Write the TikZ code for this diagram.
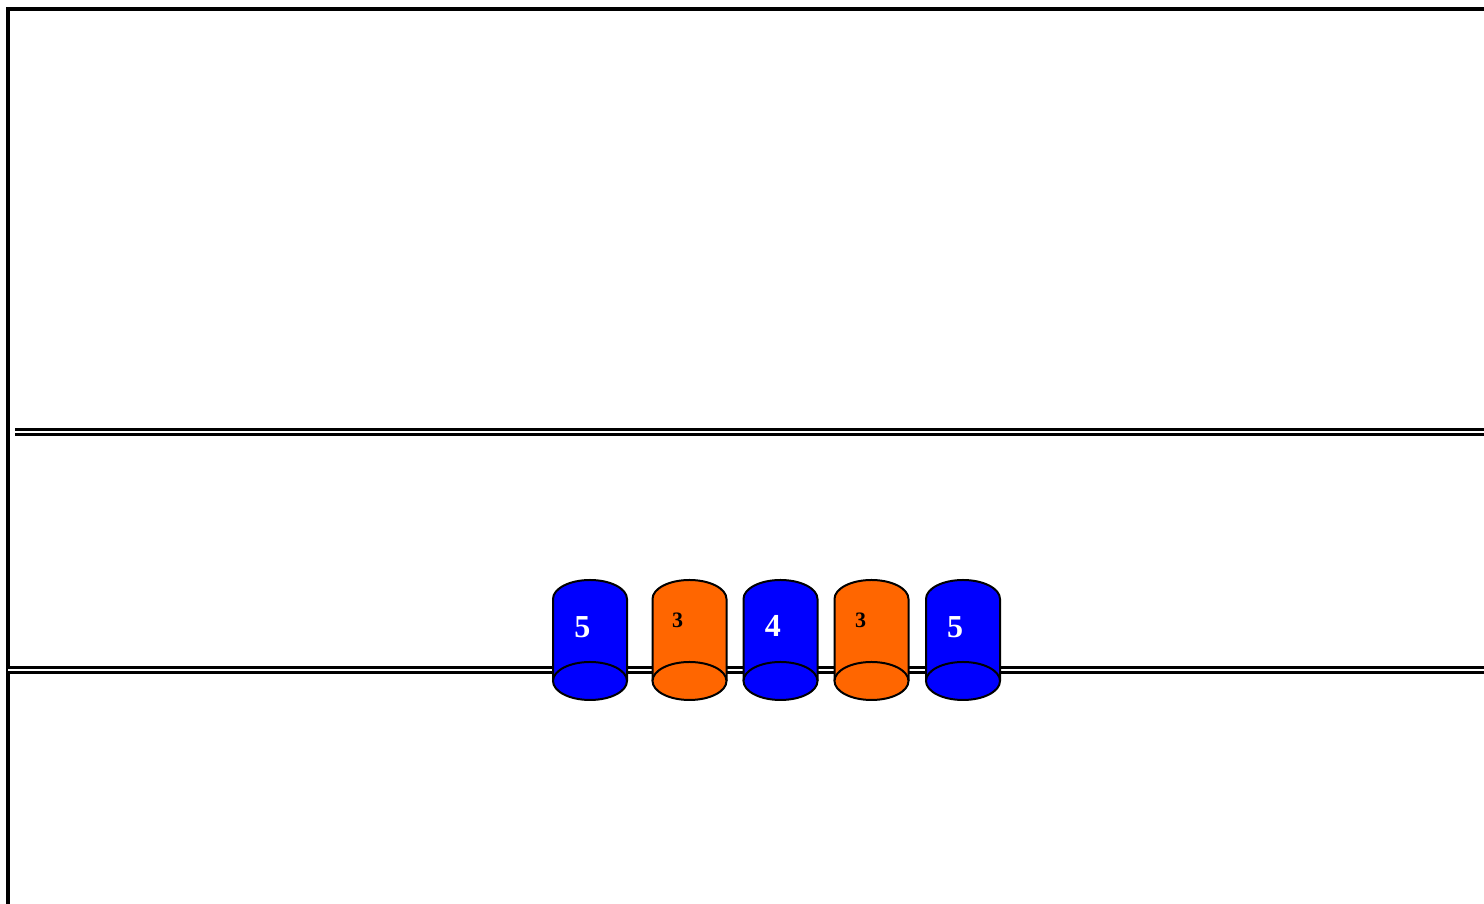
\documentclass[tikz,border=0pt]{standalone}
\usepackage{fontspec}
\setmainfont{Liberation Serif}
\definecolor{beadblue}{RGB}{0,0,255}
\definecolor{beadorange}{RGB}{255,102,0}
\tikzset{
  frame/.style={line width=1.8pt},
  rod/.style={double, line width=1.3pt, double distance=1.4pt},
  bead/.style={line width=1pt}
}
\begin{document}
\begin{tikzpicture}[x=0.5pt,y=0.5pt]
      \useasboundingbox (0,0) rectangle (1484,904);
      % frame
      \draw[frame] (8,0) -- (8,895) -- (1484,895);
      % rods
      \draw[rod] (15,472) -- (1484,472);
      \draw[rod] (8,234) -- (1484,234);
      % beads
      \foreach \x/\col/\txt/\lab/\dx/\ly/\fs in {
          590/beadblue/white/5/-7.7/277/16,
          689.5/beadorange/black/3/-12/284/11,
          780.5/beadblue/white/4/-7.7/278/16,
          871.5/beadorange/black/3/-11/284/11,
          963/beadblue/white/5/-8/277/16} {
        \fill[\col] (\x-37,223) -- (\x-37,305)
          arc[start angle=180, end angle=0, x radius=37, y radius=19]
          -- (\x+37,223)
          arc[start angle=0, end angle=-180, x radius=37, y radius=19] -- cycle;
        \draw[bead] (\x-37,223) -- (\x-37,305)
          arc[start angle=180, end angle=0, x radius=37, y radius=19]
          -- (\x+37,223);
        \filldraw[bead, fill=\col] (\x,223) ellipse[x radius=37, y radius=19];
        \node[text=\txt, font=\fontsize{\fs}{\fs}\selectfont\bfseries,
          inner sep=0pt] (lab\x) at (\x+\dx,\ly) {\lab};
      }
    \end{tikzpicture}
\end{document}
